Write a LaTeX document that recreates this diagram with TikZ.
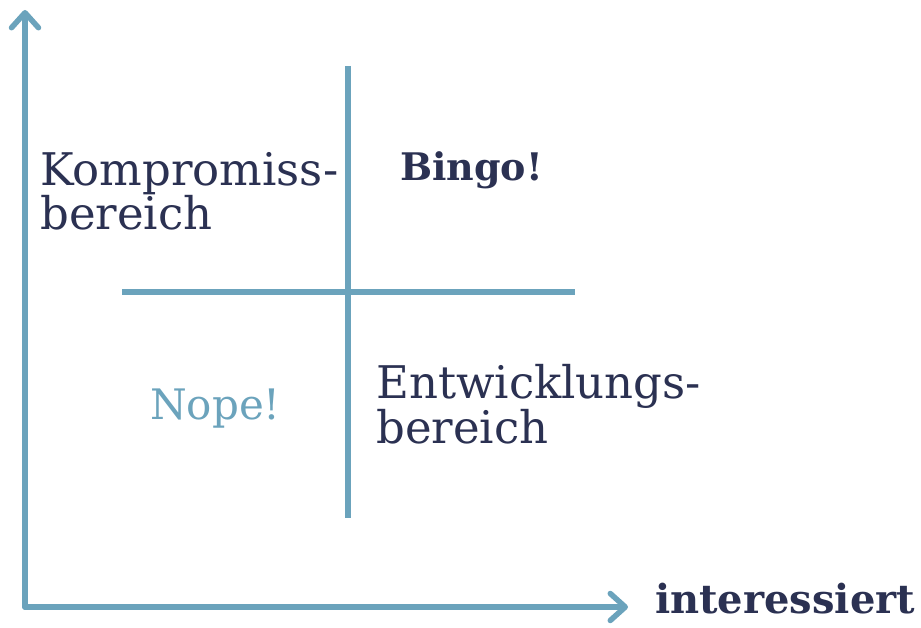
\documentclass[tikz,border=0pt]{standalone}
\usepackage{fontspec}
\setmainfont{DejaVu Serif}
\usetikzlibrary{arrows.meta}

\definecolor{axisblue}{HTML}{6BA3BC}
\definecolor{inkblue}{HTML}{2B3152}

\tikzset{
    axisline/.style={line width=5.5pt, draw=axisblue, line cap=round,
        -{Straight Barb[length=15pt, width=27pt, line width=5.5pt, round]}},
    gridline/.style={line width=5.5pt, draw=axisblue},
    areatext/.style={anchor=base west, inner sep=0pt, align=left, text=inkblue,
        font=\fontsize{45}{44}\selectfont},
    boldtext/.style={anchor=base west, inner sep=0pt, text=inkblue,
        font=\fontsize{38}{44}\selectfont\bfseries}
}

\begin{document}
\begin{tikzpicture}[x=1pt, y=1pt]

    \useasboundingbox (0,0) rectangle (921,627);

    % axes
    \coordinate (origin) at (25,20);
    \coordinate (ytop) at (25,617);
    \coordinate (xend) at (628,20);
    \draw[axisline] (origin) -- (ytop); % vertical axis
    \draw[axisline] (origin) -- (xend); % horizontal axis

    % cross
    \coordinate (vtop) at (348,561);
    \coordinate (vbot) at (348,109);
    \coordinate (hleft) at (122,335);
    \coordinate (hright) at (575,335);
    \draw[gridline] (vtop) -- (vbot);
    \draw[gridline] (hleft) -- (hright);

    % nodes (areas), base = last line
    \node[areatext] (kompromiss) at (40,397) {Kompromiss-\\bereich};
    \node[boldtext] (bingo) at (400,446) {Bingo!};
    \node[areatext, text=axisblue, font=\fontsize{42}{44}\selectfont] (nope) at (150,207) {Nope!};
    \node[areatext] (entwicklung) at (376,183) {Entwicklungs-\\bereich};

    % axis label
    \node[boldtext, font=\fontsize{40}{44}\selectfont\bfseries] (interesse) at (655,14) {interessiert};

\end{tikzpicture}
\end{document}
